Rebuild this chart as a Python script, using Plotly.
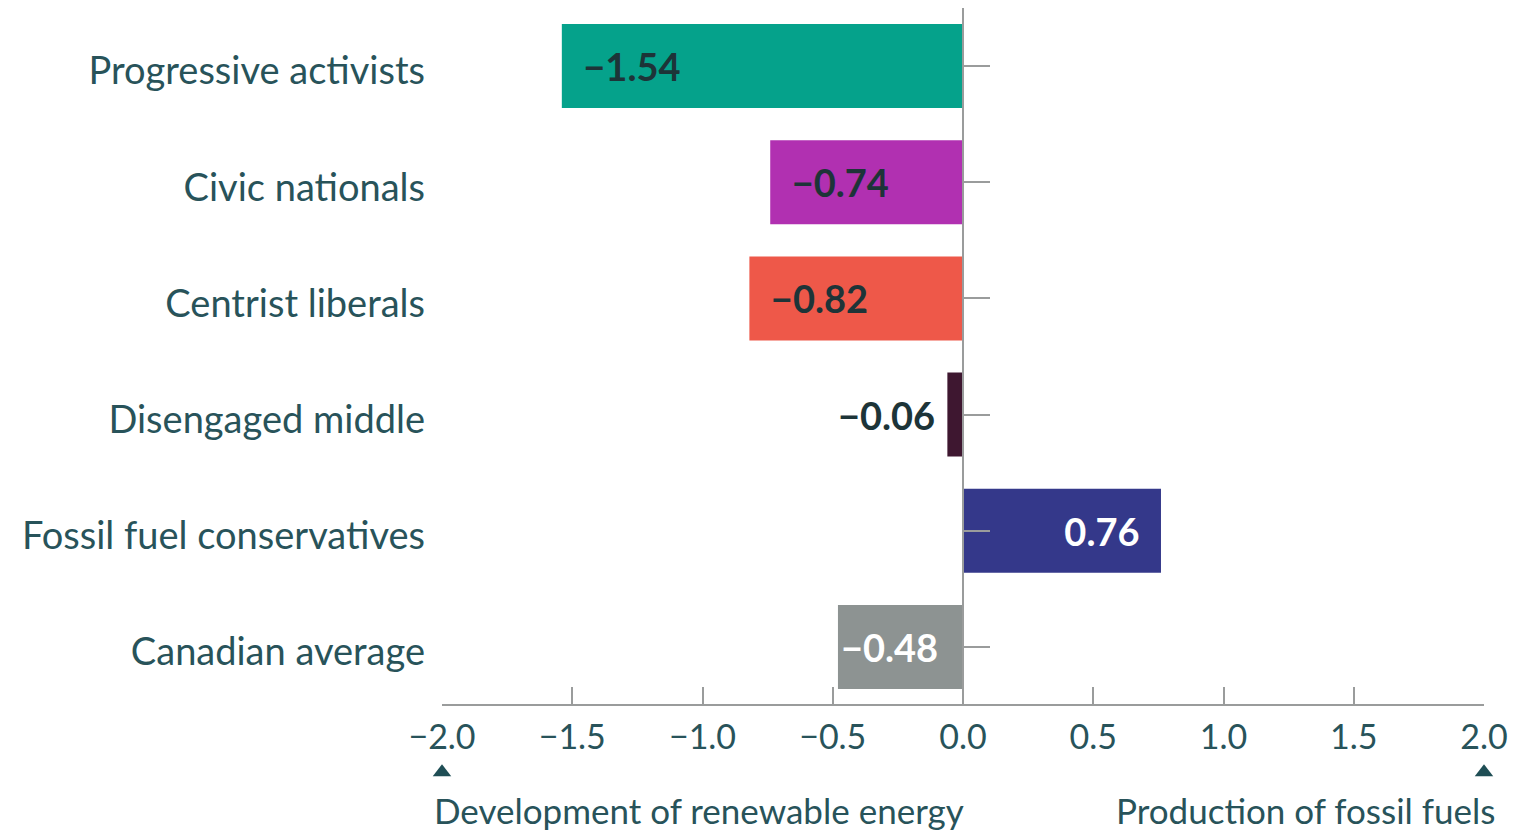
import plotly.graph_objects as go

# data
groups = [
    "Progressive activists",
    "Civic nationals",
    "Centrist liberals",
    "Disengaged middle",
    "Fossil fuel conservatives",
    "Canadian average",
]
scores = [-1.54, -0.74, -0.82, -0.06, 0.76, -0.48]
bar_colors = ["#05A28B", "#B130B1", "#EE5849", "#3E1730", "#34388A", "#8D9392"]
label_colors = ["#1D3438", "#1D3438", "#1D3438", "#1D3438", "#FFFFFF", "#FFFFFF"]
label_pos = ["inside", "inside", "inside", "outside", "inside", "inside"]
x_ticks = [-2.0, -1.5, -1.0, -0.5, 0.0, 0.5, 1.0, 1.5, 2.0]
left_note = "Development of renewable energy"
right_note = "Production of fossil fuels"

TEXT = "#28535A"
GRID = "#9A9C9C"
NBSP = "\u00a0"

# bars take the top part of the plot area, the end arrows sit in the strip below
BAR_BOTTOM = 0.1087


def fmt(v, pos):
    s = f"{v:.2f}".replace("-", "\u2212")
    if pos == "outside":
        return s + NBSP
    if abs(v) < 0.6:
        return s
    return NBSP * 2 + s if v < 0 else s + NBSP * 2


bar_text = [fmt(v, p) for v, p in zip(scores, label_pos)]

bars = go.Bar(
    x=scores,
    y=groups,
    orientation="h",
    marker=dict(color=bar_colors, line=dict(width=0)),
    text=bar_text,
    textposition=label_pos,
    insidetextanchor="end",
    constraintext="none",
    textfont=dict(family="Lato", size=38, color=label_colors, weight="bold"),
    cliponaxis=False,
    hoverinfo="skip",
)

# invisible helper so the zero line axis gets its category ticks
ticks_helper = go.Scatter(
    x=scores,
    y=groups,
    yaxis="y2",
    mode="markers",
    marker=dict(opacity=0),
    hoverinfo="skip",
    showlegend=False,
)

# little arrows under both ends of the scale
end_marks = go.Scatter(
    x=[x_ticks[0], x_ticks[-1]],
    y=[0.21, 0.21],
    yaxis="y3",
    mode="markers",
    marker=dict(symbol="triangle-up", size=16, color="#1F4E55", line=dict(width=0)),
    cliponaxis=False,
    hoverinfo="skip",
    showlegend=False,
)

fig = go.Figure(data=[bars, ticks_helper, end_marks])

# page body adds an 8px offset, so the figure is 8px smaller each way
fig.update_layout(
    width=1508,
    height=822,
    paper_bgcolor="white",
    plot_bgcolor="white",
    showlegend=False,
    bargap=0.277,
    margin=dict(l=434, r=32, t=0, b=40),
    font=dict(family="Lato", color=TEXT),
    xaxis=dict(
        range=[-2, 2],
        anchor="free",
        position=BAR_BOTTOM,
        tickvals=x_ticks,
        ticktext=[f"{t:.1f}".replace("-", "\u2212") for t in x_ticks],
        ticks="inside",
        ticklen=17,
        tickwidth=1.5,
        tickcolor=GRID,
        showline=True,
        linecolor=GRID,
        linewidth=1.5,
        showgrid=False,
        zeroline=False,
        tickfont=dict(family="Lato", size=34, color=TEXT),
        ticklabelstandoff=2,
        automargin=False,
    ),
    yaxis=dict(
        domain=[BAR_BOTTOM, 1],
        categoryorder="array",
        categoryarray=groups,
        range=[5.5, -0.5],
        showgrid=False,
        zeroline=False,
        showline=False,
        ticks="",
        tickfont=dict(family="Lato", size=38, color=TEXT),
        ticklabelstandoff=16,
        ticklabelshift=-5,
        automargin=False,
    ),
    yaxis2=dict(
        overlaying="y",
        anchor="free",
        position=0.5,
        side="right",
        categoryorder="array",
        categoryarray=groups,
        range=[5.5, -0.5],
        showgrid=False,
        zeroline=False,
        showline=True,
        linecolor=GRID,
        linewidth=1.5,
        showticklabels=False,
        ticks="outside",
        ticklen=26,
        tickwidth=1.5,
        tickcolor=GRID,
    ),
    yaxis3=dict(
        domain=[0, BAR_BOTTOM],
        range=[0, 1],
        visible=False,
        fixedrange=True,
    ),
)

# direction notes under the axis ends
fig.add_annotation(x=-2, y=-0.0256, xref="x", yref="paper", text=left_note,
                   showarrow=False, xanchor="left", yanchor="middle", xshift=-10,
                   font=dict(family="Lato", size=35, color=TEXT))
fig.add_annotation(x=2, y=-0.0256, xref="x", yref="paper", text=right_note,
                   showarrow=False, xanchor="right", yanchor="middle", xshift=13,
                   font=dict(family="Lato", size=35, color=TEXT))

fig.write_html("out.html")
